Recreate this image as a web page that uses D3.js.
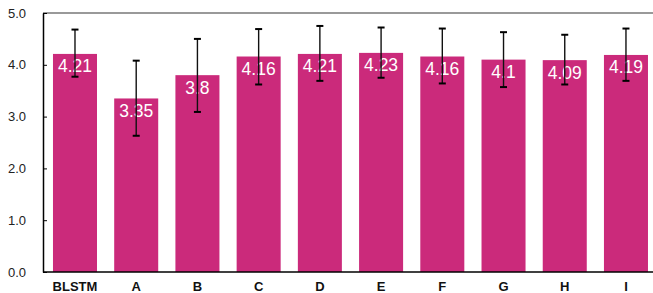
<!DOCTYPE html>
<html><head><meta charset="utf-8">
<script src="https://cdn.jsdelivr.net/npm/d3@7"></script>
<style>body{margin:0;background:#fff}svg{display:block}</style>
</head><body>
<script>
const categories = ["BLSTM","A","B","C","D","E","F","G","H","I"];
const values = [4.21,3.35,3.8,4.16,4.21,4.23,4.16,4.1,4.09,4.19];
const errLow = [3.77,2.63,3.09,3.62,3.69,3.75,3.64,3.57,3.62,3.69];
const errHigh = [4.68,4.08,4.50,4.69,4.75,4.72,4.70,4.63,4.58,4.70];
const yTicks = [0,1,2,3,4,5];

(function(){
const W = 653, H = 293;
const mL = 43, mR = 653, mT = 13, mB = 272;
const svg = d3.select("body").append("svg").attr("width", W).attr("height", H);

const step = 61.22;
const x = d3.scaleBand().domain(categories)
  .range([mL, mL + step * (categories.length - 0.281 + 2 * 0.163)])
  .paddingInner(0.281).paddingOuter(0.163);
const y = d3.scaleLinear().domain([0,5]).range([mB, mT]);

const data = categories.map((c,i)=>({c, v:values[i], lo:errLow[i], hi:errHigh[i]}));
const cx = d => x(d.c) + x.bandwidth()/2;

// top border
svg.append("line").attr("x1",mL).attr("x2",mR).attr("y1",mT).attr("y2",mT)
  .attr("stroke","#777").attr("stroke-width",1.5);

// bars
svg.selectAll("rect.bar").data(data).enter().append("rect")
  .attr("x",d=>x(d.c)).attr("width",x.bandwidth())
  .attr("y",d=>y(d.v)).attr("height",d=>y(0)-y(d.v))
  .attr("fill","#CB2A7B");

// value labels
svg.selectAll("text.val").data(data).enter().append("text")
  .attr("x",cx).attr("y",d=>y(d.v)+18.5)
  .attr("text-anchor","middle").attr("fill","#fff")
  .attr("font-family","Liberation Sans, Arial, sans-serif").attr("font-size",17.5)
  .text(d=>d.v);

// error bars
const eb = svg.selectAll("g.err").data(data).enter().append("g");
eb.append("line").attr("x1",cx).attr("x2",cx)
  .attr("y1",d=>y(d.lo)).attr("y2",d=>y(d.hi)).attr("stroke","#111").attr("stroke-width",1.4);
eb.append("line").attr("x1",d=>cx(d)-3.5).attr("x2",d=>cx(d)+3.5)
  .attr("y1",d=>y(d.hi)).attr("y2",d=>y(d.hi)).attr("stroke","#000").attr("stroke-width",2);
eb.append("line").attr("x1",d=>cx(d)-3.5).attr("x2",d=>cx(d)+3.5)
  .attr("y1",d=>y(d.lo)).attr("y2",d=>y(d.lo)).attr("stroke","#000").attr("stroke-width",2);

// y axis
const ya = svg.append("g").attr("transform",`translate(${mL},0)`)
  .call(d3.axisLeft(y).tickValues(yTicks).tickFormat(d3.format(".1f")).tickSizeInner(-4).tickSizeOuter(0).tickPadding(17));
ya.select(".domain").attr("stroke","#000").attr("stroke-width",1.5);
ya.selectAll(".tick line").attr("stroke","#000");
ya.selectAll(".tick text").attr("font-family","Liberation Sans, Arial, sans-serif").attr("font-size",13).attr("fill","#222");

// x axis
const xa = svg.append("g").attr("transform",`translate(0,${mB})`)
  .call(d3.axisBottom(x).tickSize(0).tickPadding(10));
xa.select(".domain").remove();
svg.append("line").attr("x1",mL).attr("x2",mR).attr("y1",mB).attr("y2",mB)
  .attr("stroke","#000").attr("stroke-width",1.5);
xa.selectAll(".tick text").attr("font-family","Liberation Sans, Arial, sans-serif").attr("font-size",13)
  .attr("font-weight","bold").attr("fill","#111");
})();
</script>
</body></html>
